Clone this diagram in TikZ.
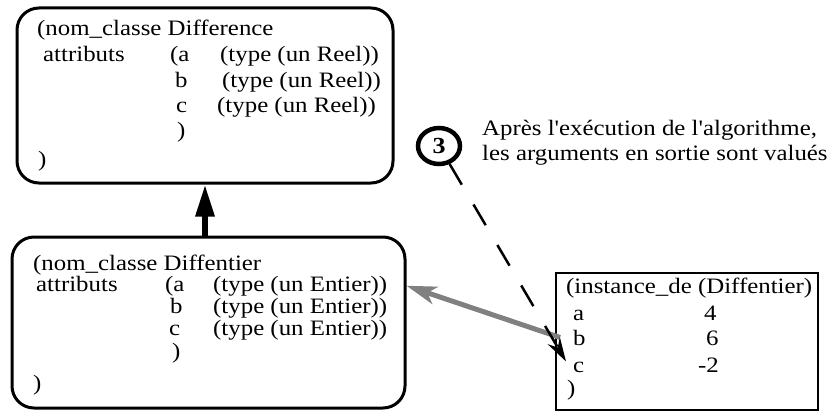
\documentclass[tikz,border=0pt]{standalone}
\usepackage{fontspec}
\setmainfont{Liberation Serif}[FakeStretch=1.13,Ligatures=TeXOff]
\usetikzlibrary{arrows.meta,shapes.geometric}

\begin{document}
\begin{tikzpicture}[x=1pt,y=-1pt,
  classbox/.style={draw,line width=3pt,rounded corners=22pt,inner sep=0pt},
  instbox/.style={draw,line width=2.5pt,inner sep=0pt},
  txt/.style={anchor=base west,inner sep=0pt,font=\fontsize{22}{26}\selectfont},
  numcirc/.style={ellipse,draw,line width=4.5pt,inner sep=0pt,minimum width=42pt,minimum height=36pt,font=\fontsize{23}{26}\selectfont\bfseries}]
  \useasboundingbox (0,0) rectangle (832,412);
  \node[classbox,minimum width=376pt,minimum height=175pt] (diff) at (205,95.5) {};
  \node[txt] (r0) at (37,36) {(nom\_classe Difference};
  \node[txt] (r1) at (43,61) {attributs};
  \node[txt] (r1a) at (170,61) {(a};
  \node[txt] (r1t) at (220,61) {(type (un Reel))};
  \node[txt] (r2b) at (175,87) {b};
  \node[txt] (r2t) at (222,87) {(type (un Reel))};
  \node[txt] (r3c) at (176,112) {c};
  \node[txt] (r3t) at (217,112) {(type (un Reel))};
  \node[txt] (r4) at (177,137) {)};
  \node[txt] (r5) at (38,166) {)};
  \node[classbox,minimum width=393pt,minimum height=171pt] (dent) at (208.5,322.5) {};
  \node[txt] (e0) at (33,270) {(nom\_classe Diffentier};
  \node[txt] (e1) at (36,291) {attributs};
  \node[txt] (e1a) at (165,291) {(a};
  \node[txt] (e1t) at (213,291) {(type (un Entier))};
  \node[txt] (e2b) at (170,313) {b};
  \node[txt] (e2t) at (213,313) {(type (un Entier))};
  \node[txt] (e3c) at (169,335) {c};
  \node[txt] (e3t) at (213,335) {(type (un Entier))};
  \node[txt] (e4) at (172,358) {)};
  \node[txt] (e5) at (33,390) {)};
  \node[instbox,minimum width=262pt,minimum height=137pt] (inst) at (687,341.5) {};
  \node[txt] (i0) at (566,293) {(instance\_de (Diffentier)};
  \node[txt] (ia) at (573,320) {a};
  \node[txt] (iva) at (704,320) {4};
  \node[txt] (ib) at (573,345) {b};
  \node[txt] (ivb) at (706,345) {6};
  \node[txt] (ic) at (573,372) {c};
  \node[txt] (ivc) at (698,372) {-2};
  \node[txt] (i5) at (567,395) {)};
  \node[numcirc] (three) at (439,146) {3};
  \node[txt] (note1) at (482,135) {Après l'exécution de l'algorithme,};
  \node[txt] (note2) at (482,160) {les arguments en sortie sont valués};
  \draw[line width=6pt,-{Triangle[length=32pt,width=18pt]}] (dent.north -| diff.south) -- (diff.south);
  \draw[line width=5pt,black!50,-{Stealth[length=30pt,width=18pt,inset=8pt]}] ([xshift=-13pt]ib.west) -- (dent.east |- e1t);
  \draw[line width=2.5pt,dash pattern=on 24pt off 23pt,-{Stealth[length=24pt,width=14pt]}] (three) -- ([xshift=-7pt]ic.north west);
\end{tikzpicture}
\end{document}
